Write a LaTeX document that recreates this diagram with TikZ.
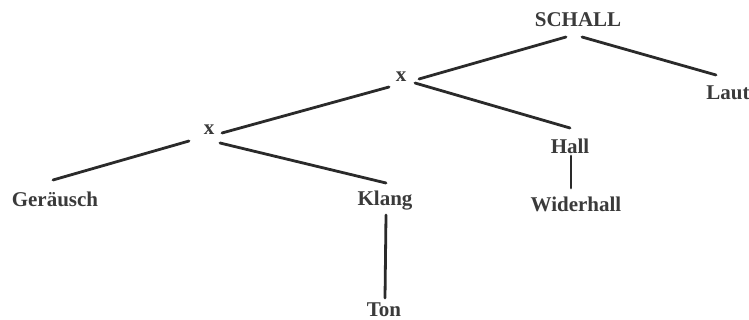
\documentclass[tikz,border=0pt]{standalone}
\usepackage{fontspec}
\setmainfont{Liberation Serif}
\usetikzlibrary{calc}
\definecolor{ink}{HTML}{2A2A2A}
\definecolor{txt}{HTML}{3A3A3A}
\tikzset{
  word/.style={anchor=base, inner sep=0pt, text=txt,
    font=\fontsize{21}{25}\selectfont\bfseries},
  branch/.style={draw=ink, line width=2.8pt, line cap=round}
}
\begin{document}
\begin{tikzpicture}[x=1pt, y=-1pt]
  \useasboundingbox (0,0) rectangle (749,320);
  % word tree
  \node[word] (schall)    at (578,27)  {SCHALL};
  \node[word] (laut)      at (728,100) {Laut};
  \node[word] (x1)        at (401,82)  {x};
  \node[word] (x2)        at (209,135) {x};
  \node[word] (hall)      at (570,154) {Hall};
  \node[word] (geraeusch) at (55,207)  {Geräusch};
  \node[word] (klang)     at (385,206) {Klang};
  \node[word] (widerhall) at (576,212) {Widerhall};
  \node[word] (ton)       at (384,316) {Ton};
  % branches
  \draw[branch] ($(schall.base)+(-12,10)$) -- ($(x1.base)+(18,-3)$);
  \draw[branch] ($(schall.base)+(4,10)$)   -- ($(laut.base)+(-12,-25)$);
  \draw[branch] ($(x1.base)+(-12,5)$)      -- ($(x2.base)+(13,-2)$);
  \draw[branch] ($(x1.base)+(14,1)$)       -- ($(hall.base)+(0,-26)$);
  \draw[branch] ($(hall.base)+(1,2)$)      -- ($(widerhall.base)+(-5,-24)$);
  \draw[branch] ($(x2.base)+(-20,6)$)      -- ($(geraeusch.base)+(-2,-27)$);
  \draw[branch] ($(x2.base)+(11,8)$)       -- ($(klang.base)+(1,-23)$);
  \draw[branch] ($(klang.base)+(1,9)$)     -- ($(ton.base)+(1,-18)$);
\end{tikzpicture}
\end{document}
